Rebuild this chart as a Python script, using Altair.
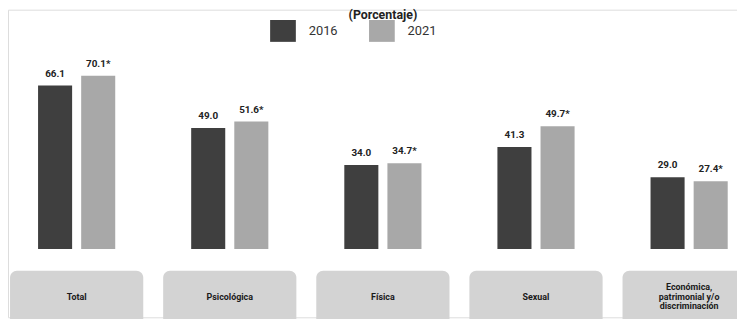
import altair as alt
import pandas as pd

categories = ["Total", "Psicológica", "Física", "Sexual", "Económica, patrimonial y/o discriminación"]
box_labels = [["Total"], ["Psicológica"], ["Física"], ["Sexual"], ["Económica,", "patrimonial y/o", "discriminación"]]
years = ["2016", "2021"]
values_2016 = [66.1, 49.0, 34.0, 41.3, 29.0]
values_2021 = [70.1, 51.6, 34.7, 49.7, 27.4]
labels_2016 = ["66.1", "49.0", "34.0", "41.3", "29.0"]
labels_2021 = ["70.1*", "51.6*", "34.7*", "49.7*", "27.4*"]
subtitle = "(Porcentaje)"
colors = ["#3f3f3f", "#a8a8a8"]

rows = []
for c, v1, v2, l1, l2 in zip(categories, values_2016, values_2021, labels_2016, labels_2021):
    rows.append({"cat": c, "year": "2016", "value": v1, "label": l1})
    rows.append({"cat": c, "year": "2021", "value": v2, "label": l2})
df = pd.DataFrame(rows)
boxes = pd.DataFrame({"cat": categories, "text": box_labels,
                      "nlines": [len(b) for b in box_labels]})

W, H = 737, 311
xscale = alt.Scale(domain=categories, range=[-8, 766], paddingInner=0.13, paddingOuter=0.065)
x = alt.X("cat:N", scale=xscale, axis=None, sort=categories)
xo = alt.XOffset("year:N", scale=alt.Scale(domain=years, paddingInner=0.21, paddingOuter=0.65))
yscale = alt.Scale(domain=[0, 96.8], range=[242, 0])

base = alt.Chart(df)
bars = base.mark_bar().encode(
    x=x, xOffset=xo,
    y=alt.Y("value:Q", scale=yscale, axis=None),
    color=alt.Color("year:N", scale=alt.Scale(domain=years, range=colors),
                    legend=alt.Legend(title=None, orient="none", legendX=265, legendY=8,
                                      direction="horizontal",
                                      labelFont="Roboto", labelFontSize=13, labelColor="#333",
                                      labelOffset=13, columnPadding=31,
                                      symbolType="M-1,-0.85H1V0.85H-1Z", symbolSize=676,
                                      symbolStrokeWidth=0, symbolOpacity=1)),
)
texts = base.mark_text(dy=-7, font="Roboto", fontSize=10, fontWeight="bold", color="#222", baseline="bottom").encode(
    x=x, xOffset=xo, y=alt.Y("value:Q", scale=yscale), text="label:N"
)
sub = alt.Chart(pd.DataFrame({"t": [subtitle]})).mark_text(
    font="Roboto", fontSize=12.5, fontWeight="bold", color="#222", baseline="middle", align="center"
).encode(x=alt.value(379), y=alt.value(5), text="t:N")

bchart = alt.Chart(boxes)
rects = bchart.mark_bar(color="#d3d3d3", cornerRadius=7).encode(
    x=x, y=alt.value(264), y2=alt.value(322)
)
btext1 = bchart.transform_filter("datum.nlines == 1").mark_text(
    font="Roboto", fontSize=9, fontWeight="bold", color="#1a1a1a", baseline="middle").encode(
    x=x, y=alt.value(291), text="text"
)
btext3 = bchart.transform_filter("datum.nlines > 1").mark_text(
    font="Roboto", fontSize=9, fontWeight="bold", color="#1a1a1a", lineHeight=10, baseline="middle").encode(
    x=x, y=alt.value(280), text="text"
)

chart = alt.layer(rects, bars, texts, sub, btext1, btext3).properties(
    width=W, height=H, autosize=alt.AutoSizeParams(type="none"), padding=0
).configure_view(stroke=None).configure(background="white")

chart.save("out.html", embed_options={"renderer": "svg", "actions": False})
